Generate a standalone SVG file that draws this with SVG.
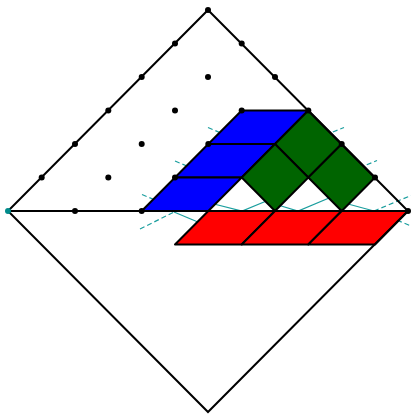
<svg xmlns="http://www.w3.org/2000/svg" width="411" height="414" viewBox="0 0 411 414">
<style>
.bg{fill:#ffffff}
.tl{stroke:#1a9e9e;stroke-width:1.2;fill:none}
.td{stroke:#1a9e9e;stroke-width:1.2;fill:none;stroke-dasharray:5,3}
.b{fill:#0000ff;stroke:#000;stroke-width:2;stroke-linejoin:round}
.g{fill:#006400;stroke:#000;stroke-width:2;stroke-linejoin:round}
.r{fill:#ff0000;stroke:#000;stroke-width:2;stroke-linejoin:round}
.edge{fill:none;stroke:#000;stroke-width:2}
.dot{fill:#000}
</style>
<rect class="bg" x="0" y="0" width="411" height="414"/>
<g id="teal-paths">
<line class="td" x1="208" y1="127.5" x2="235" y2="139"/>
<line class="td" x1="175" y1="161" x2="200" y2="171.5"/>
<line class="td" x1="142" y1="194.5" x2="167" y2="205"/>
<line class="td" x1="318" y1="138" x2="344" y2="127.5"/>
<line class="td" x1="352" y1="171" x2="377" y2="160.5"/>
<line class="td" x1="374" y1="211" x2="411" y2="195.5"/>
<line class="td" x1="140" y1="229" x2="174" y2="212"/>
<line class="td" x1="375" y1="211" x2="411" y2="226"/>
<line class="tl" x1="174" y1="212" x2="205" y2="225"/>
<polyline class="tl" points="212,203.5 242,211 270,199.5"/>
<polyline class="tl" points="278,205 298,211 335,195.5"/>
<line class="tl" x1="348" y1="204" x2="374" y2="211"/>
</g>
<g id="blue-tiles">
<polygon class="b" points="241.7,110.5 308.3,110.5 275,144 208.3,144"/>
<polygon class="b" points="208.3,144 275,144 241.7,177.5 175,177.5"/>
<polygon class="b" points="175,177.5 241.7,177.5 208.3,211 141.7,211"/>
</g>
<g id="green-tiles">
<polygon class="g" points="308.3,110.5 341.7,144 308.3,177.5 275,144"/>
<polygon class="g" points="275,144 308.3,177.5 275,211 241.7,177.5"/>
<polygon class="g" points="341.7,144 375,177.5 341.7,211 308.3,177.5"/>
</g>
<g id="red-tiles">
<polygon class="r" points="208.3,211 275,211 241.7,244.5 175,244.5"/>
<polygon class="r" points="275,211 341.7,211 308.3,244.5 241.7,244.5"/>
<polygon class="r" points="341.7,211 408,211 375,244.5 308.3,244.5"/>
</g>
<g id="square">
<polygon class="edge" points="208,10 408,211 208,412 8,211"/>
<line class="edge" x1="8" y1="211" x2="408" y2="211"/>
</g>
<g id="dots">
<circle class="dot" cx="41.7" cy="177.5" r="3"/>
<circle class="dot" cx="75" cy="144" r="3"/>
<circle class="dot" cx="108.3" cy="110.5" r="3"/>
<circle class="dot" cx="141.7" cy="77" r="3"/>
<circle class="dot" cx="175" cy="43.5" r="3"/>
<circle class="dot" cx="208" cy="10" r="3"/>
<circle class="dot" cx="241.7" cy="43.5" r="3"/>
<circle class="dot" cx="275" cy="77" r="3"/>
<circle class="dot" cx="308.3" cy="110.5" r="3"/>
<circle class="dot" cx="341.7" cy="144" r="3"/>
<circle class="dot" cx="375" cy="177.5" r="3"/>
<circle class="dot" cx="408" cy="211" r="3"/>
<circle class="dot" cx="75" cy="211" r="3"/>
<circle class="dot" cx="141.7" cy="211" r="3"/>
<circle class="dot" cx="108.3" cy="177.5" r="3"/>
<circle class="dot" cx="175" cy="177.5" r="3"/>
<circle class="dot" cx="141.7" cy="144" r="3"/>
<circle class="dot" cx="208.3" cy="144" r="3"/>
<circle class="dot" cx="175" cy="110.5" r="3"/>
<circle class="dot" cx="241.7" cy="110.5" r="3"/>
<circle class="dot" cx="208" cy="77" r="3"/>
<circle cx="8" cy="211" r="3" fill="#008b8b"/>
</g>
</svg>
